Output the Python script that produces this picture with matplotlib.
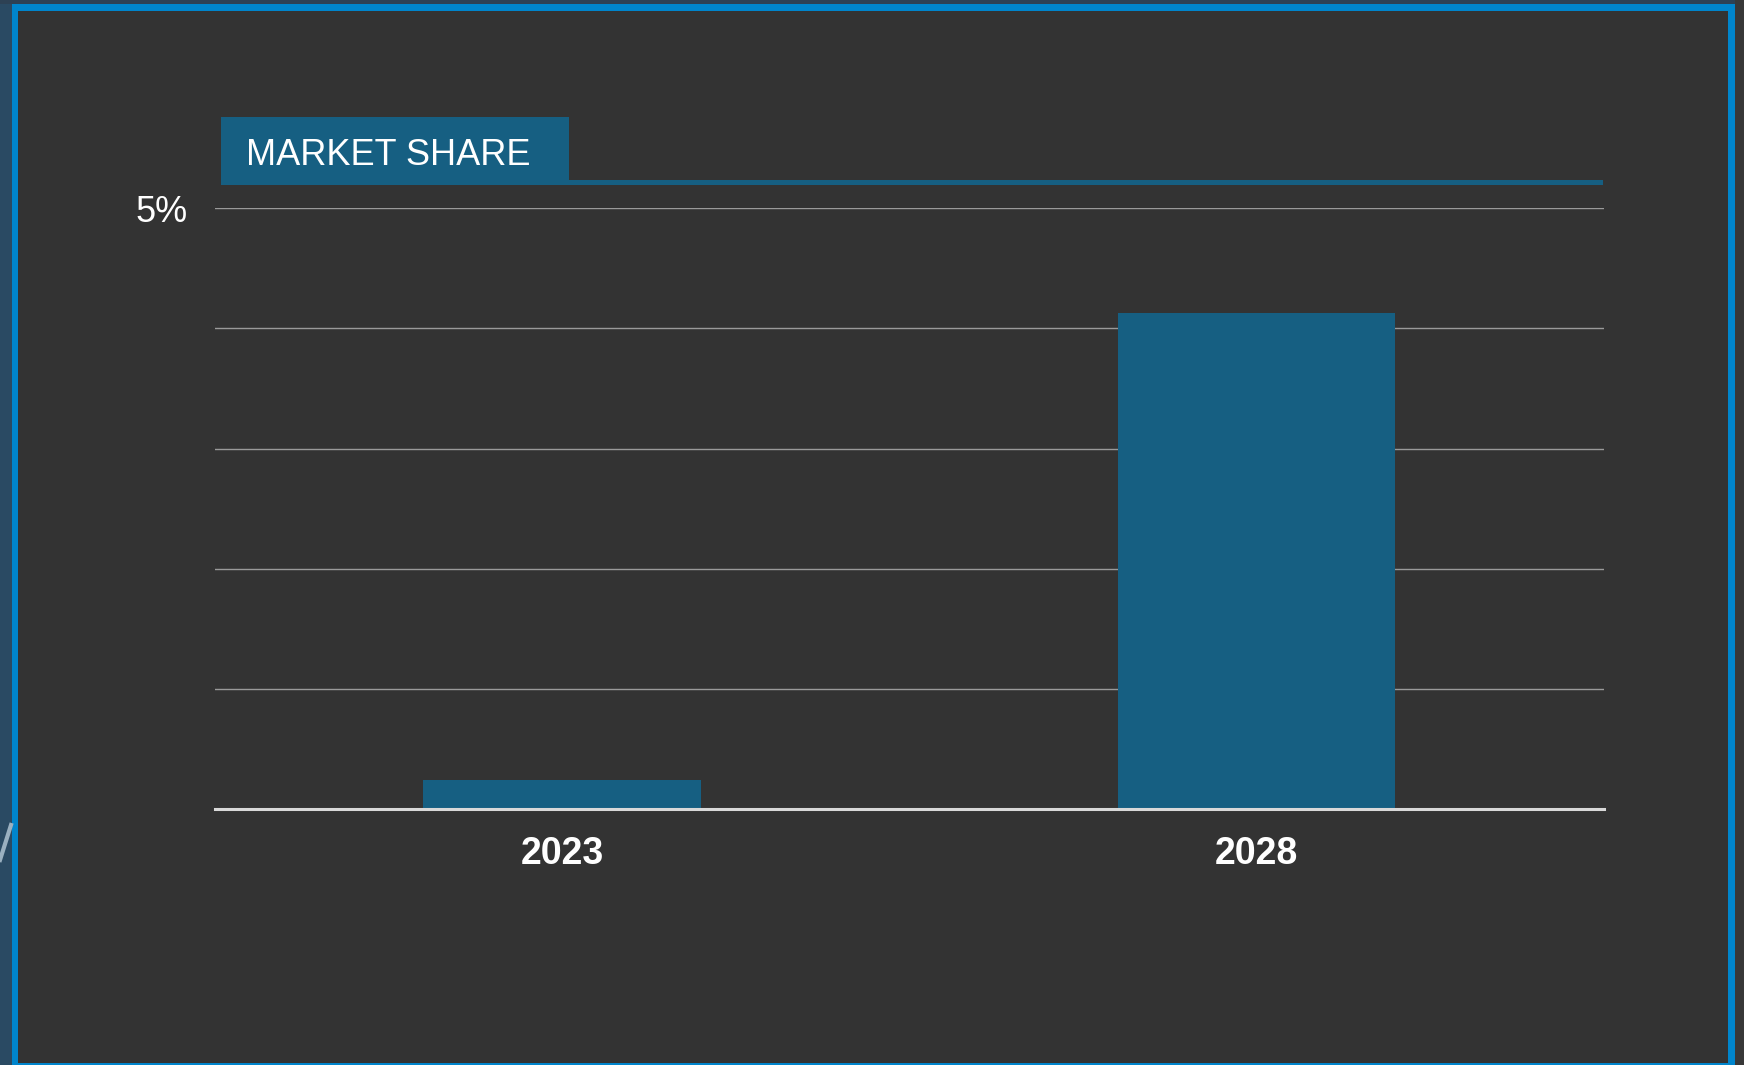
import matplotlib.pyplot as plt
from matplotlib.patches import Rectangle
from matplotlib.lines import Line2D

plt.rcParams['font.family'] = ['Liberation Sans', 'DejaVu Sans']

# data
years = ['2023', '2028']
market_share = [0.24, 4.13]   # percent
y_ticks = [0, 1, 2, 3, 4, 5]
y_tick_labels = ['', '', '', '', '', '5%']
header_text = 'MARKET SHARE'

bg_color = '#333333'
bar_color = '#165F82'
frame_color = '#0085CC'

W, H = 1744, 1065
fig = plt.figure(figsize=(W / 100, H / 100), dpi=100, facecolor=bg_color)


def px_rect(x0, y0, x1, y1, color, z=0):
    # rectangle in pixel coords measured from top-left
    fig.add_artist(Rectangle((x0 / W, 1 - y1 / H), (x1 - x0) / W, (y1 - y0) / H,
                             transform=fig.transFigure, facecolor=color,
                             edgecolor='none', zorder=z))


# outer slide strips peeking round the frame
px_rect(0, 0, 12, H, '#2A4A63', z=0)
px_rect(0, 0, W, 4, '#2D4154', z=0)
px_rect(1735, 0, W, H, '#383838', z=0)

# blue frame
px_rect(12, 4, 1735, 10.5, frame_color, z=1)
px_rect(12, 4, 18.3, 1065, frame_color, z=1)
px_rect(1728, 4, 1735, 1065, frame_color, z=1)
px_rect(12, 1063, 1735, 1065, frame_color, z=1)

# little curved light streak on the left strip
fig.add_artist(Line2D([0 / W, 11 / W], [1 - 860 / H, 1 - 825 / H],
                      transform=fig.transFigure, color='#9AB0C0', lw=3, zorder=1))

# header box and its underline
px_rect(221, 117, 569, 185, bar_color, z=2)
px_rect(568, 180, 1603, 185, bar_color, z=2)
fig.text(246 / W, 1 - 165 / H, header_text, color='white', fontsize=26,
         ha='left', va='baseline', zorder=3)

ax = fig.add_axes([214.7 / W, 1 - 809 / H, 1389 / W, (809 - 208.3) / H])
ax.set_facecolor('none')

x = range(len(years))
ax.bar(x, market_share, width=0.4, color=bar_color, zorder=2)

ax.set_xlim(-0.5, 1.5)
ax.set_ylim(0, 5)
ax.set_yticks(y_ticks)
ax.set_yticklabels(y_tick_labels)
ax.set_xticks(list(x))
ax.set_xticklabels(years, fontsize=27, fontweight='bold', color='white')
ax.tick_params(axis='x', length=0, pad=19.5)
ax.tick_params(axis='y', length=0, pad=19.5, labelsize=26, labelcolor='white')
for lab in ax.get_yticklabels():
    lab.set_verticalalignment('center_baseline')

ax.yaxis.grid(True, color='#9A9A9A', linewidth=1.0, zorder=1)
ax.set_axisbelow(True)
for side in ['top', 'right', 'left']:
    ax.spines[side].set_visible(False)
ax.spines['bottom'].set_color('#D9D9D9')
ax.spines['bottom'].set_linewidth(2.2)
ax.spines['bottom'].set_zorder(3)

plt.savefig('out.png', dpi=100, facecolor=bg_color)
